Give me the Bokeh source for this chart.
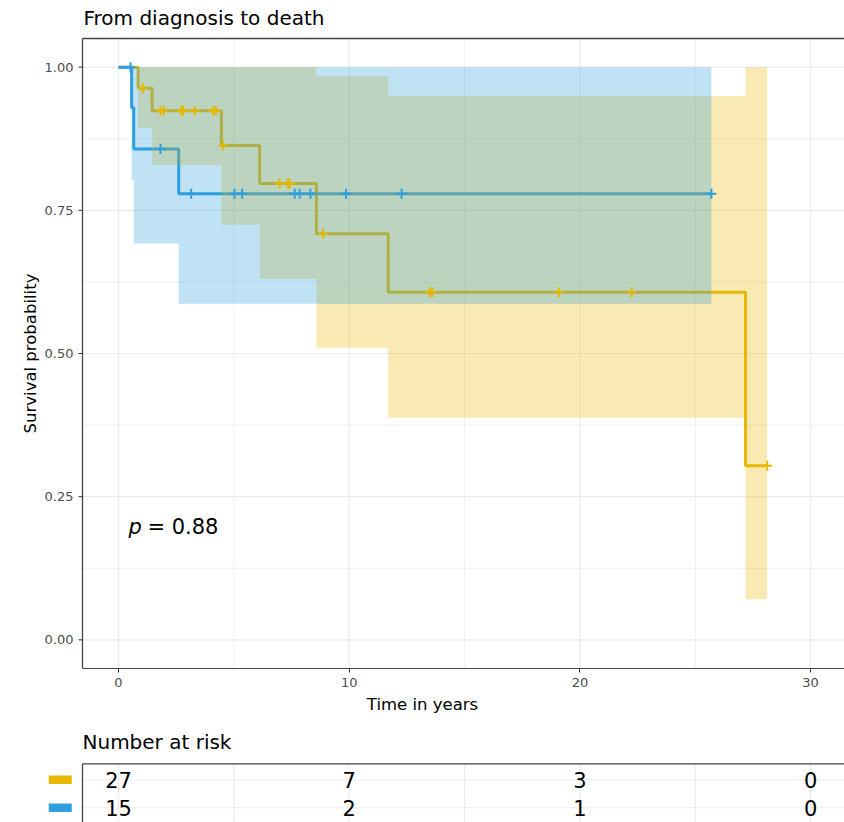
import math
from bokeh.plotting import figure
from bokeh.models import Range1d, FixedTicker, Title
from bokeh.layouts import column
from bokeh.embed import file_html
from bokeh.resources import INLINE
from bokeh.core.properties import value

# ---------------- data ----------------
# group A (yellow, n = 27)
a_time  = [0.0, 0.85, 1.46, 4.46, 6.12, 8.58, 11.69, 27.18, 28.12]
a_surv  = [1.0, 0.963, 0.924, 0.863, 0.797, 0.709, 0.607, 0.304, 0.304]
a_lower = [1.0, 0.894, 0.829, 0.725, 0.630, 0.510, 0.388, 0.071, 0.071]
a_upper = [1.0, 1.0, 1.0, 1.0, 1.0, 0.984, 0.949, 1.0, 1.0]
a_cens_time = [1.05, 1.82, 1.96, 2.73, 2.80, 3.31, 4.10, 4.22, 4.54, 6.98, 7.34,
               7.42, 8.87, 13.49, 13.60, 19.09, 22.24, 28.12]
a_cens_surv = [0.963, 0.924, 0.924, 0.924, 0.924, 0.924, 0.924, 0.924, 0.863,
               0.797, 0.797, 0.797, 0.709, 0.607, 0.607, 0.607, 0.607, 0.304]

# group B (blue, n = 15)
b_time  = [0.0, 0.57, 0.66, 2.61, 25.70]
b_surv  = [1.0, 0.929, 0.857, 0.779, 0.779]
b_lower = [1.0, 0.803, 0.692, 0.587, 0.587]
b_upper = [1.0, 1.0, 1.0, 1.0, 1.0]
b_cens_time = [0.52, 1.82, 3.15, 5.03, 5.36, 7.64, 7.85, 8.32, 9.86, 12.27, 25.70]
b_cens_surv = [1.0, 0.857, 0.779, 0.779, 0.779, 0.779, 0.779, 0.779, 0.779, 0.779, 0.779]

# number at risk table
risk_times = [0, 10, 20, 30]
risk_a = [27, 7, 3, 0]
risk_b = [15, 2, 1, 0]
risk_rows = [2, 1]           # row positions: group A on top, group B below

x_ticks = [0, 10, 20, 30]
x_minor = [5, 15, 25]
y_ticks = [0.0, 0.25, 0.5, 0.75, 1.0]
y_minor = [0.125, 0.375, 0.625, 0.875]
y_tick_labels = ["0.00", "0.25", "0.50", "0.75", "1.00"]

COL_A = "#E7B800"
COL_B = "#2E9FDF"
FONT = "DejaVu Sans"
GRID = "#EBEBEB"
BORDER = "#444444"

# ---------------- pixel geometry ----------------
W = 844
PX_PER_YEAR = 23.07          # horizontal scale
T0_PX = 118.0                # canvas x of t = 0
PANEL_LEFT_PX = 82.0         # left edge of the plotting panel
PANEL_TOP_PX = 38.0          # top edge of the plotting panel
PANEL_BOTTOM_PX = 668.0      # bottom edge of the plotting panel
Y_LO, Y_HI = -0.05, 1.05     # survival axis limits of the panel
PX_PER_UNIT = (PANEL_BOTTOM_PX - PANEL_TOP_PX) / (Y_HI - Y_LO)


def t_at(px):
    return (px - T0_PX) / PX_PER_YEAR


def s_at(py):
    return Y_HI + (PANEL_TOP_PX - py) / PX_PER_UNIT


X_CANVAS_LO = t_at(0)
X_HI = t_at(W)
X_PANEL = t_at(PANEL_LEFT_PX)
Y_CANVAS_TOP = s_at(0)

# ---------------- main survival plot ----------------
p = figure(width=W, height=728, x_range=Range1d(X_CANVAS_LO, X_HI), y_range=Range1d(Y_LO, Y_CANVAS_TOP),
           output_backend="svg", toolbar_location=None, y_axis_location=None,
           min_border_left=0, min_border_right=0, min_border_top=0, min_border_bottom=60)
p.outline_line_color = None
p.background_fill_color = "white"
p.border_fill_color = "white"
p.grid.visible = False

x_ax = p.xaxis[0]
x_ax.ticker = FixedTicker(ticks=x_ticks, minor_ticks=x_minor)
x_ax.bounds = (X_PANEL, X_HI)
x_ax.axis_line_color = BORDER
x_ax.axis_line_width = 1
x_ax.major_tick_line_color = "#333333"
x_ax.major_tick_in = 0
x_ax.major_tick_out = 4
x_ax.minor_tick_line_color = None
x_ax.major_label_text_font = FONT
x_ax.major_label_text_font_size = "13px"
x_ax.major_label_text_color = "#4D4D4D"
x_ax.major_label_standoff = 5

# x-axis title, centred on the panel (not on the whole canvas)
x_title = Title(text="Time in years", align="center",
                offset=(PANEL_LEFT_PX + W) / 2 - W / 2,
                text_font=FONT, text_font_size="16.5px", text_font_style="normal",
                text_color="black", standoff=7)
p.add_layout(x_title, "below")

# grid lines, only across the panel
grid_x = sorted(x_ticks + x_minor)
p.segment(x0=x_minor, y0=[Y_LO] * len(x_minor), x1=x_minor, y1=[Y_HI] * len(x_minor),
          line_color=GRID, line_width=0.8)
p.segment(x0=x_ticks, y0=[Y_LO] * len(x_ticks), x1=x_ticks, y1=[Y_HI] * len(x_ticks),
          line_color=GRID, line_width=1.2)
p.segment(x0=[X_PANEL] * len(y_minor), y0=y_minor, x1=[X_HI] * len(y_minor), y1=y_minor,
          line_color=GRID, line_width=0.8)
p.segment(x0=[X_PANEL] * len(y_ticks), y0=y_ticks, x1=[X_HI] * len(y_ticks), y1=y_ticks,
          line_color=GRID, line_width=1.2)

# panel border (left and top), y ticks, tick labels, axis title, plot title
p.segment(x0=[X_PANEL], y0=[Y_LO], x1=[X_PANEL], y1=[Y_HI], line_color=BORDER, line_width=1.3)
p.segment(x0=[X_PANEL], y0=[Y_HI], x1=[X_HI], y1=[Y_HI], line_color=BORDER, line_width=1.3)
p.segment(x0=[X_PANEL] * len(y_ticks), y0=y_ticks, x1=[X_PANEL - 4 / PX_PER_YEAR] * len(y_ticks),
          y1=y_ticks, line_color="#333333", line_width=1)
p.text(x=[X_PANEL] * len(y_ticks), y=y_ticks, text=y_tick_labels, x_offset=-9,
       text_font=value(FONT), text_font_size="13px", text_color="#4D4D4D",
       text_align="right", text_baseline="middle")
p.text(x=[t_at(30)], y=[(Y_LO + Y_HI) / 2], text=["Survival probability"], angle=math.pi / 2,
       text_font=value(FONT), text_font_size="16.5px", text_color="black",
       text_align="center", text_baseline="middle")
p.text(x=[X_PANEL], y=[s_at(17)], text=["From diagnosis to death"], x_offset=1,
       text_font=value(FONT), text_font_size="20px", text_color="black",
       text_align="left", text_baseline="middle")

# step lines first, then confidence bands over them, then censor marks
p.step(a_time, a_surv, mode="after", line_color=COL_A, line_width=3)
p.step(b_time, b_surv, mode="after", line_color=COL_B, line_width=3)
p.varea_step(x=a_time, y1=a_lower, y2=a_upper, step_mode="after", fill_color=COL_A, fill_alpha=0.3)
p.varea_step(x=b_time, y1=b_lower, y2=b_upper, step_mode="after", fill_color=COL_B, fill_alpha=0.3)
p.scatter(a_cens_time, a_cens_surv, marker="cross", size=10, line_color=COL_A, line_width=2)
p.scatter(b_cens_time, b_cens_surv, marker="cross", size=10, line_color=COL_B, line_width=2)

p.text(x=[0.43], y=[0.197], text=["p"], text_font=value(FONT), text_font_size="21px",
       text_font_style="italic", text_baseline="middle", text_align="left", text_color="black")
p.text(x=[0.43], y=[0.197], text=["= 0.88"], x_offset=19, text_font=value(FONT), text_font_size="21px",
       text_baseline="middle", text_align="left", text_color="black")

# ---------------- risk table (canvas rows 728..822) ----------------
ROW_PX = 28.0
ROW2_PX = 779.3 - 728         # canvas y of the top row inside the table figure
TABLE_H = 94
y_top = 2 + ROW2_PX / ROW_PX
y_bot = 1 - (TABLE_H - ROW2_PX - ROW_PX) / ROW_PX
y_border = 2 + (779.3 - 763.3) / ROW_PX
y_title = 2 + (779.3 - 741) / ROW_PX

t = figure(width=W, height=TABLE_H, x_range=Range1d(X_CANVAS_LO, X_HI), y_range=Range1d(y_bot, y_top),
           output_backend="svg", toolbar_location=None,
           min_border_left=0, min_border_right=0, min_border_top=0, min_border_bottom=0,
           x_axis_location=None, y_axis_location=None)
t.grid.visible = False
t.outline_line_color = None
t.background_fill_color = "white"
t.border_fill_color = "white"

t.segment(x0=grid_x, y0=[y_bot] * len(grid_x), x1=grid_x, y1=[y_border] * len(grid_x),
          line_color=GRID, line_width=1.1)
t.segment(x0=[X_PANEL] * 2, y0=risk_rows, x1=[X_HI] * 2, y1=risk_rows, line_color=GRID, line_width=1.1)
t.segment(x0=[X_PANEL], y0=[y_border], x1=[X_HI], y1=[y_border], line_color=BORDER, line_width=1.3)
t.segment(x0=[X_PANEL], y0=[y_border], x1=[X_PANEL], y1=[y_bot], line_color=BORDER, line_width=1.3)

t.text(x=[X_PANEL], y=[y_title], text=["Number at risk"], text_font=value(FONT), text_font_size="20px",
       text_baseline="middle", text_align="left", text_color="black")
t.rect(x=[t_at(59.75)] * 2, y=risk_rows, width=23, height=8.5,
       width_units="screen", height_units="screen", fill_color=[COL_A, COL_B], line_color=None)
t.text(x=risk_times, y=[risk_rows[0]] * len(risk_times), text=[str(v) for v in risk_a],
       text_font=value(FONT), text_font_size="21px", text_baseline="middle",
       text_align="center", text_color="black")
t.text(x=risk_times, y=[risk_rows[1]] * len(risk_times), text=[str(v) for v in risk_b],
       text_font=value(FONT), text_font_size="21px", text_baseline="middle",
       text_align="center", text_color="black")

layout = column(p, t, spacing=0)
open("out.html", "w").write(file_html(layout, INLINE))
